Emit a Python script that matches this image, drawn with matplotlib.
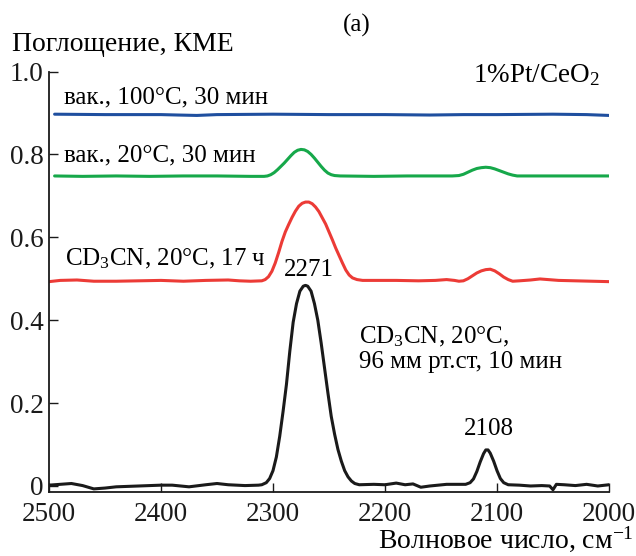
import matplotlib
matplotlib.use('Agg')
import matplotlib.pyplot as plt
from matplotlib.ticker import FixedLocator, FixedFormatter

plt.rcParams['font.family'] = ['Liberation Serif', 'DejaVu Serif']
plt.rcParams['mathtext.fontset'] = 'custom'
plt.rcParams['mathtext.rm'] = 'Liberation Serif'
plt.rcParams['mathtext.it'] = 'Liberation Serif:italic'

# CD3CN, 20°C, 96 мм рт.ст, 10 мин (чёрная)
x_black = [2500, 2490, 2480, 2470, 2460, 2450, 2440, 2420, 2400, 2390, 2375, 2360,
           2350, 2340, 2325, 2313, 2310, 2306, 2303, 2300, 2297, 2294, 2291, 2288, 2285,
           2282, 2279, 2276, 2273, 2271, 2269, 2266, 2263, 2260, 2257, 2254, 2251, 2248,
           2245, 2242, 2239, 2236, 2233, 2230, 2227, 2223, 2210, 2200, 2190, 2182,
           2175, 2168, 2160, 2145, 2128, 2124, 2121, 2118, 2115, 2112, 2110, 2108, 2106,
           2103, 2100, 2097, 2094, 2090, 2080, 2070, 2060, 2053, 2050, 2047, 2040, 2030,
           2020, 2010, 2000]
y_black = [0.002, 0.004, 0.006, 0.001, -0.007, -0.005, -0.002, 0.0, 0.002, 0.002, -0.002, 0.003,
           0.006, 0.003, 0.001, 0.002, 0.003, 0.008, 0.018, 0.037, 0.07, 0.12, 0.18, 0.245, 0.325,
           0.395, 0.44, 0.47, 0.482, 0.484, 0.482, 0.47, 0.44, 0.4, 0.345, 0.285, 0.225, 0.168,
           0.125, 0.088, 0.06, 0.037, 0.022, 0.012, 0.006, 0.003, 0.004, 0.003, 0.007, 0.003,
           0.005, -0.003, 0.0, 0.004, 0.004, 0.008, 0.017, 0.035, 0.058, 0.078, 0.087, 0.087, 0.079,
           0.06, 0.037, 0.018, 0.008, 0.003, 0.002, 0.0, 0.001, 0.0, -0.009, 0.004, 0.003, 0.001,
           0.004, 0.0, 0.003]

# CD3CN, 20°C, 17 ч (красная)
x_red = [2500, 2490, 2475, 2460, 2440, 2420, 2400, 2380, 2360, 2340, 2330, 2320, 2310,
         2307, 2304, 2301, 2298, 2295, 2292, 2289, 2286, 2283, 2280, 2277, 2274, 2271,
         2268, 2265, 2262, 2259, 2256, 2253, 2250, 2247, 2244, 2241, 2238, 2235, 2232,
         2229, 2225, 2220, 2210, 2190, 2170, 2155, 2145, 2138, 2134, 2130, 2126, 2122,
         2118, 2114, 2110, 2106, 2102, 2098, 2094, 2090, 2086, 2080, 2070, 2061.6, 2045,
         2030, 2015, 2000]
y_red = [0.493, 0.496, 0.497, 0.494, 0.494, 0.495, 0.496, 0.494, 0.496, 0.497, 0.495, 0.494, 0.495,
         0.498, 0.505, 0.518, 0.538, 0.563, 0.59, 0.613, 0.631, 0.648, 0.663, 0.675, 0.682, 0.685,
         0.685, 0.681, 0.673, 0.662, 0.647, 0.632, 0.613, 0.594, 0.574, 0.556, 0.538, 0.521, 0.509,
         0.502, 0.498, 0.496, 0.496, 0.496, 0.495, 0.496, 0.498, 0.496, 0.494, 0.495, 0.5, 0.507,
         0.514, 0.519, 0.522, 0.523, 0.519, 0.512, 0.504, 0.498, 0.494, 0.495, 0.497, 0.4995, 0.496,
         0.495, 0.494, 0.493]

# вак., 20°C, 30 мин (зелёная)
x_green = [2495, 2470, 2440, 2410, 2380, 2350, 2320, 2308, 2305, 2302, 2299, 2296, 2293,
           2290, 2287, 2284, 2281, 2278, 2275, 2272, 2269, 2266, 2263, 2260, 2257, 2254,
           2251, 2248, 2245, 2240, 2210, 2180, 2150, 2140, 2134, 2130, 2126, 2122, 2118,
           2114, 2110, 2106, 2102, 2098, 2094, 2090, 2086, 2082, 2060, 2030, 2000]
y_green = [0.748, 0.747, 0.748, 0.747, 0.748, 0.748, 0.747, 0.747, 0.748, 0.751, 0.756, 0.763, 0.771,
           0.779, 0.788, 0.797, 0.805, 0.81, 0.812, 0.811, 0.807, 0.8, 0.791, 0.781, 0.771, 0.762,
           0.755, 0.751, 0.749, 0.748, 0.747, 0.748, 0.748, 0.748, 0.749, 0.752, 0.757, 0.762, 0.766,
           0.768, 0.769, 0.768, 0.765, 0.761, 0.757, 0.753, 0.75, 0.748, 0.748, 0.748, 0.748]

# вак., 100°C, 30 мин (синяя)
x_blue = [2495, 2450, 2400, 2385, 2368, 2350, 2300, 2250, 2200, 2160, 2130, 2100, 2050, 2020, 2000]
y_blue = [0.897, 0.896, 0.896, 0.895, 0.894, 0.896, 0.897, 0.896, 0.896, 0.895, 0.896, 0.896, 0.897, 0.896, 0.894]

x_ticks = [2500, 2400, 2300, 2200, 2100, 2000]
y_ticks = [0, 0.2, 0.4, 0.6, 0.8, 1.0]
y_tick_labels = ['0', '0.2', '0.4', '0.6', '0.8', '1.0']

fig = plt.figure(figsize=(6.36, 5.56), dpi=100)
ax = fig.add_axes([49 / 636, 64 / 556, 560 / 636, 420.5 / 556])

lw = 2.2
style = dict(lw=lw, solid_joinstyle='round', solid_capstyle='round')
ax.plot(x_blue, y_blue, color='#1f4f9f', **style)
ax.plot(x_green, y_green, color='#16a84a', **style)
ax.plot(x_red, y_red, color='#ec3b36', **style)
ax.plot(x_black, y_black, color='#1a1a1a', **style)

ax.set_xlim(2500, 2000)
ax.set_ylim(-0.0145, 1.0)
ax.xaxis.set_major_locator(FixedLocator(x_ticks))
ax.yaxis.set_major_locator(FixedLocator(y_ticks))
ax.yaxis.set_major_formatter(FixedFormatter(y_tick_labels))
ax.tick_params(direction='in', length=6.5, width=1.0, labelsize=19.5, colors='#1a1a1a')
ax.tick_params(axis='x', pad=7)
ax.tick_params(axis='y', pad=4)
for s in ['top', 'right']:
    ax.spines[s].set_visible(False)
for s in ['left', 'bottom']:
    ax.spines[s].set_linewidth(1.3)
    ax.spines[s].set_color('#1a1a1a')

fs = 18
ax.text(2486.5, 0.937, 'вак., 100°C, 30 мин', fontsize=fs, va='center', ha='left')
ax.text(2486.5, 0.798, 'вак., 20°C, 30 мин', fontsize=fs, va='center', ha='left')
ax.text(2486, 0.549, r'CD$_{\mathrm{3}}$CN, 20°C, 17 ч', fontsize=fs, va='center', ha='left')
ax.text(2268, 0.52, '2271', fontsize=fs, va='center', ha='center')
ax.text(2223, 0.33, 'CD$_{\\mathrm{3}}$CN, 20°C,\n96 мм рт.ст, 10 мин', fontsize=fs,
        va='center', ha='left', linespacing=1.1)
ax.text(2107, 0.137, '2108', fontsize=fs, va='center', ha='center')
ax.text(2008, 0.99, r'1%Pt/CeO$_{\mathrm{2}}$', fontsize=19.5, va='center', ha='right')

fig.text(357 / 636, 1 - 25 / 556, '(a)', fontsize=fs, va='center', ha='center')
fig.text(12 / 636, 1 - 45 / 556, 'Поглощение, КМЕ', fontsize=20, va='center', ha='left')
fig.text(0.996, 2 / 556, r'Волновое число, см$^{-1}$', fontsize=20, va='bottom', ha='right')

fig.savefig('out.png', dpi=100)
